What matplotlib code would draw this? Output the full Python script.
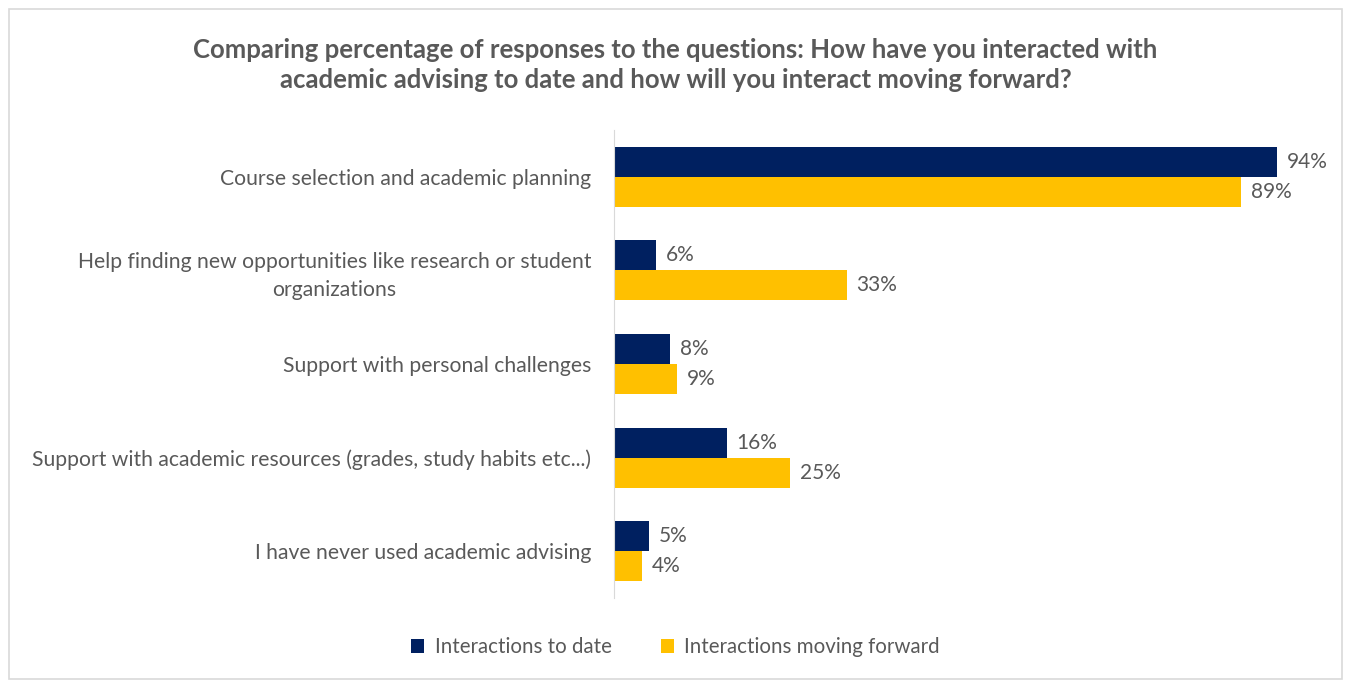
import matplotlib.pyplot as plt
import numpy as np
from matplotlib.patches import Rectangle

plt.rcParams['font.family'] = ['Lato', 'DejaVu Sans']

categories = ['Course selection and academic planning',
              'Help finding new opportunities like research or student\norganizations',
              'Support with personal challenges',
              'Support with academic resources (grades, study habits etc...)',
              'I have never used academic advising']
to_date = [94, 6, 8, 16, 5]
moving_forward = [89, 33, 9, 25, 4]
series_names = ['Interactions to date', 'Interactions moving forward']

navy = '#002060'
gold = '#FFC000'
txt = '#595959'

fig = plt.figure(figsize=(13.51, 6.83), dpi=100)
fig.patches.append(Rectangle((9 / 1351, 4 / 683), 1 - 18 / 1351, 1 - 13 / 683,
                             transform=fig.transFigure, fill=False,
                             edgecolor='#d9d9d9', linewidth=1.2))
ax = fig.add_axes([614 / 1351, 1 - 598 / 683, 705 / 1351, 468 / 683])

y = np.arange(len(categories))
h = 0.32
b1 = ax.barh(y - h / 2, to_date, height=h, color=navy, label=series_names[0])
b2 = ax.barh(y + h / 2, moving_forward, height=h, color=gold, label=series_names[1])

for bars in (b1, b2):
    for r in bars:
        ax.annotate('{}%'.format(int(r.get_width())),
                    xy=(r.get_width(), r.get_y() + r.get_height() / 2),
                    xytext=(7, 0), textcoords='offset points',
                    ha='left', va='center', fontsize=15, color=txt)

ax.set_xlim(0, 100)
ax.set_ylim(4.5, -0.5)
ax.set_yticks(y)
ax.set_yticklabels(categories, fontsize=15.2, color=txt, ha='right', linespacing=1.45)
for lab in ax.get_yticklabels():
    lab.set_multialignment('center')
ax.tick_params(axis='y', length=0, pad=16.5)
ax.set_xticks([])
for s in ['top', 'right', 'bottom']:
    ax.spines[s].set_visible(False)
ax.spines['left'].set_color('#d9d9d9')

fig.text(0.5, 1 - 65 / 683, 'Comparing percentage of responses to the questions: How have you interacted with\n'
         'academic advising to date and how will you interact moving forward?',
         ha='center', va='center', fontsize=18.5, fontweight='bold', color=txt, linespacing=1.3)

fig.legend(handles=[b1, b2], loc='center', bbox_to_anchor=(0.5, 1 - 647 / 683), ncol=2,
           frameon=False, fontsize=14.8, labelcolor=txt, handlelength=0.65, handleheight=0.65,
           columnspacing=2.4, handletextpad=0.5)

plt.savefig('out.png', dpi=100)
